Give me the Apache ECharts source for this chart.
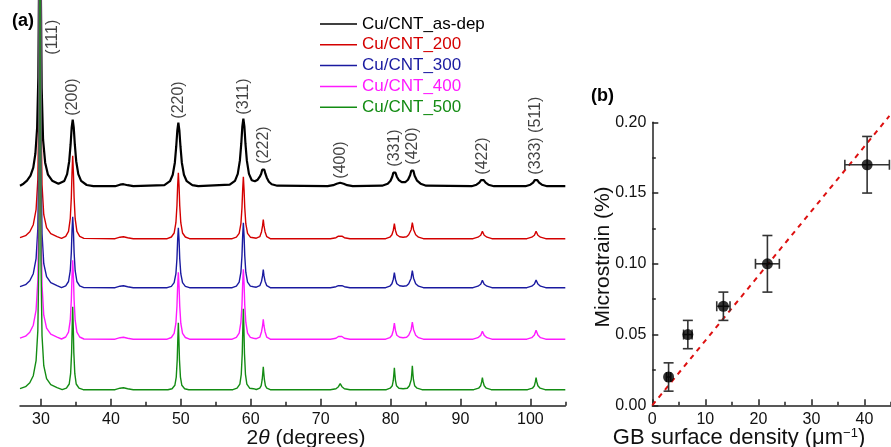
<!DOCTYPE html>
<html>
<head>
<meta charset="utf-8">
<script src="https://cdn.jsdelivr.net/npm/echarts@6/dist/echarts.min.js"></script>
<style>
html, body { margin: 0; padding: 0; background: #fff; }
#main { width: 891px; height: 447px; }
</style>
</head>
<body>
<div id="main"></div>
<script>
// XRD patterns: [2theta, intensity above own baseline] (a.u.)
var seriesNames = ['Cu/CNT_as-dep', 'Cu/CNT_200', 'Cu/CNT_300', 'Cu/CNT_400', 'Cu/CNT_500'];
var offsets = [218, 166, 117, 65.5, 15];

var asDep = [
	[27,2],[27.5,4],[28.0,7],[28.5,12],[28.9,20],[29.2,34],[29.45,60],[29.62,110],[29.74,220],[29.86,1600],[29.98,200],[30.1,100],[30.3,48],[30.6,25],[31.0,13],[31.6,7],[32.5,4],
	[33.34,6.8],[33.74,13.6],[34.04,26.5],[34.24,43.5],[34.39,60],[34.54,68],[34.69,60],[34.84,43.5],[35.04,26.5],[35.34,13.6],[35.74,6.8],[36.54,2.7],[37.5,1.5],
	[40.6,1.5],[41.3,3],[41.8,3.5],[42.4,2.5],[43.2,1.5],
	[47.65,2.6],[48.45,6.5],[48.85,13],[49.15,25],[49.35,41.5],[49.5,57],[49.65,65],[49.8,57],[49.95,41.5],[50.15,25],[50.45,13],[50.85,6.5],[51.65,2.6],[52.5,1.5],
	[57.0,3],[57.75,6.9],[58.15,13.8],[58.45,27],[58.65,44],[58.8,61],[58.95,69],[59.1,61],[59.25,44],[59.45,27],[59.75,13.8],[60.15,7.5],[60.6,6.5],
	[61.0,8],[61.3,11],[61.5,14],[61.65,18],[61.8,20],[61.95,18],[62.1,14],[62.3,10],[62.6,6],[63.0,3.5],[63.8,2],
	[71.0,1.5],[71.8,2.5],[72.3,4],[72.8,5],[73.3,4],[73.8,2.5],[74.6,1.5],
	[78.8,2],[79.6,4],[80.0,7],[80.25,11],[80.4,15],[80.55,17],[80.7,15],[80.9,11],[81.2,7.5],[81.6,5.5],[81.85,5],[82.1,5.5],[82.5,8],[82.8,12.5],[82.97,17],[83.12,19],[83.27,17],[83.45,12],[83.8,7],[84.3,4],[85.1,2],
	[91.6,1.5],[92.3,3],[92.7,5],[92.95,7.5],[93.14,9],[93.33,7.5],[93.6,5],[94.0,3],[94.8,1.5],
	[99.3,1.5],[100.0,3],[100.4,5],[100.63,7.5],[100.82,9],[101.0,7.5],[101.25,5],[101.65,3],[102.4,1.5],[105,1.5]
];
var t200 = [
	[27,2],[27.8,4],[28.4,8],[28.9,15],[29.3,30],[29.55,60],[29.72,140],[29.86,1400],[30.0,130],[30.15,55],[30.4,25],[30.8,12],[31.4,6],[32.3,3],
	[32.94,1.3],[33.54,3.4],[33.94,8.4],[34.19,21],[34.34,42],[34.44,67],[34.54,84],[34.64,67],[34.74,42],[34.89,21],[35.14,8.4],[35.54,3.4],[36.14,1.3],
	[40.6,1],[41.3,2.5],[41.8,3],[42.4,2],[43.2,1],
	[48.05,1],[48.65,2.7],[49.05,6.7],[49.3,17],[49.45,34],[49.55,54],[49.65,67],[49.75,54],[49.85,34],[50.0,17],[50.25,6.7],[50.65,2.7],[51.25,1],
	[57.35,1],[57.95,2.5],[58.35,6.3],[58.6,16],[58.75,32],[58.85,50],[58.95,63],[59.05,50],[59.15,32],[59.3,16],[59.55,6.3],[59.95,2.5],[60.4,2],
	[60.8,1.5],[61.3,3],[61.55,8],[61.7,14],[61.8,20],[61.9,14],[62.05,8],[62.3,3],[62.8,1],
	[71.4,1],[72.2,2],[72.55,3.5],[72.8,5],[73.05,3.5],[73.4,2],[74.2,1],
	[79.3,1],[79.9,2.5],[80.2,5],[80.4,9.5],[80.55,16],[80.7,9.5],[80.9,5],[81.3,3],[81.8,2.5],[82.3,3],[82.6,5],[82.95,10],[83.12,17],[83.3,10],[83.6,5],[84.0,2.5],[84.7,1],
	[91.8,1],[92.5,2.5],[92.9,4.5],[93.14,8.3],[93.4,4.5],[93.8,2.5],[94.5,1],
	[99.5,1],[100.2,2.5],[100.58,4.5],[100.82,8.3],[101.08,4.5],[101.45,2.5],[102.2,1],[105,1]
];
var t300 = [
	[27,2],[27.8,4],[28.4,8],[28.9,15],[29.3,30],[29.55,60],[29.72,140],[29.86,1400],[30.0,130],[30.15,55],[30.4,25],[30.8,12],[31.4,6],[32.3,3],
	[32.94,1.1],[33.54,2.9],[33.94,7.2],[34.19,18],[34.34,36],[34.44,58],[34.54,72],[34.64,58],[34.74,36],[34.89,18],[35.14,7.2],[35.54,2.9],[36.14,1.1],
	[40.6,1],[41.3,2.5],[41.8,3],[42.4,2],[43.2,1],
	[48.05,1],[48.65,2.4],[49.05,6.1],[49.3,15],[49.45,30],[49.55,49],[49.65,61],[49.75,49],[49.85,30],[50.0,15],[50.25,6.1],[50.65,2.4],[51.25,1],
	[57.35,1],[57.95,2.6],[58.35,6.6],[58.6,16.5],[58.75,33],[58.85,53],[58.95,66],[59.05,53],[59.15,33],[59.3,16.5],[59.55,6.6],[59.95,2.6],[60.4,2],
	[60.8,1.5],[61.3,3],[61.55,7.5],[61.7,13],[61.8,19],[61.9,13],[62.05,7.5],[62.3,3],[62.8,1],
	[71.4,1],[72.2,2],[72.55,3],[72.8,4.3],[73.05,3],[73.4,2],[74.2,1],
	[79.3,1],[79.9,2.5],[80.2,5],[80.4,9.5],[80.55,16],[80.7,9.5],[80.9,5],[81.3,3],[81.8,2.5],[82.3,3],[82.6,5],[82.95,10.5],[83.12,18],[83.3,10.5],[83.6,5],[84.0,2.5],[84.7,1],
	[91.8,1],[92.5,2.5],[92.9,4.5],[93.14,8.3],[93.4,4.5],[93.8,2.5],[94.5,1],
	[99.5,1],[100.2,2.5],[100.58,4.7],[100.82,8.6],[101.08,4.7],[101.45,2.5],[102.2,1],[105,1]
];
var t400 = [
	[27,2],[27.8,4],[28.4,8],[28.9,15],[29.3,30],[29.55,60],[29.72,140],[29.86,1400],[30.0,130],[30.15,55],[30.4,25],[30.8,12],[31.4,6],[32.3,3],
	[32.94,1.2],[33.54,3.2],[33.94,8],[34.19,20],[34.34,40],[34.44,64],[34.54,80],[34.64,64],[34.74,40],[34.89,20],[35.14,8],[35.54,3.2],[36.14,1.2],
	[40.6,1],[41.3,2.5],[41.8,3],[42.4,2],[43.2,1],
	[48.05,1],[48.65,2.7],[49.05,6.8],[49.3,17],[49.45,34],[49.55,54],[49.65,68],[49.75,54],[49.85,34],[50.0,17],[50.25,6.8],[50.65,2.7],[51.25,1],
	[57.35,1],[57.95,2.8],[58.35,7.1],[58.6,18],[58.75,35],[58.85,57],[58.95,71],[59.05,57],[59.15,35],[59.3,18],[59.55,7.1],[59.95,2.8],[60.4,2],
	[60.8,1.5],[61.3,3],[61.55,8.5],[61.7,14.5],[61.8,21],[61.9,14.5],[62.05,8.5],[62.3,3],[62.8,1],
	[71.4,1],[72.2,2],[72.55,3.7],[72.8,5.4],[73.05,3.7],[73.4,2],[74.2,1],
	[79.3,1],[79.9,2.5],[80.2,5],[80.4,10],[80.55,17],[80.7,10],[80.9,5],[81.3,3],[81.8,2.5],[82.3,3],[82.6,5],[82.95,10.5],[83.12,18],[83.3,10.5],[83.6,5],[84.0,2.5],[84.7,1],
	[91.8,1],[92.5,2.5],[92.9,4.8],[93.14,9],[93.4,4.8],[93.8,2.5],[94.5,1],
	[99.5,1],[100.2,2.5],[100.58,5.2],[100.82,10],[101.08,5.2],[101.45,2.5],[102.2,1],[105,1]
];
var t500 = [
	[27,2],[27.8,4],[28.4,8],[28.9,15],[29.3,30],[29.55,60],[29.72,140],[29.86,1400],[30.0,130],[30.15,55],[30.4,25],[30.8,12],[31.4,6],[32.3,3],
	[33.04,1],[33.64,2.5],[34.04,6.7],[34.24,17],[34.38,38],[34.46,63],[34.54,84],[34.62,63],[34.70,38],[34.84,17],[35.04,6.7],[35.44,2.5],[36.04,1],
	[40.6,1],[41.3,2.5],[41.8,3],[42.4,2],[43.2,1],
	[48.15,1],[48.75,2],[49.15,5.4],[49.35,13.6],[49.49,31],[49.57,51],[49.65,68],[49.73,51],[49.81,31],[49.95,13.6],[50.15,5.4],[50.55,2],[51.15,1],
	[57.45,1],[58.05,2.5],[58.45,6.6],[58.65,16.4],[58.79,37],[58.87,62],[58.95,82],[59.03,62],[59.11,37],[59.25,16.4],[59.45,6.6],[59.85,2.5],[60.4,2],
	[60.8,1.2],[61.3,2.5],[61.5,5],[61.64,11],[61.72,17],[61.8,24],[61.88,17],[61.96,11],[62.1,5],[62.3,2.5],[62.8,1],
	[71.4,1],[72.2,2],[72.55,4],[72.8,7],[73.05,4],[73.4,2],[74.2,1],
	[79.4,1],[79.95,2.5],[80.25,5],[80.39,10],[80.47,16],[80.55,23],[80.63,16],[80.71,10],[80.85,5],[81.2,2.5],[81.8,2],[82.4,2.5],[82.7,5],[82.96,11],[83.04,17],[83.12,25],[83.2,17],[83.28,11],[83.45,5],[83.8,2.5],[84.5,1],
	[91.9,1],[92.6,2.5],[92.9,5],[93.04,9],[93.14,13],[93.24,9],[93.4,5],[93.7,2.5],[94.4,1],
	[99.6,1],[100.3,2.5],[100.58,5],[100.72,9],[100.82,13],[100.92,9],[101.08,5],[101.4,2.5],[102.1,1],[105,1]
];

// reflection labels: [2theta, anchor intensity above the as-dep baseline]
var peakNames = ['(111)', '(200)', '(220)', '(311)', '(222)', '(400)', '(331)', '(420)', '(422)', '(333) (511)'];
var peakLabelAt = [[31.72,133],[34.54,72],[49.65,69],[58.95,73],[61.8,24],[72.8,9],[80.55,21],[83.12,23],[93.14,13],[100.82,13]];

// panel (b)
var gbDensity = [3.07, 6.7, 13.4, 21.7, 40.5];
var gbErr = [0.4, 0.8, 1.25, 2.25, 4.2];
var microstrain = [0.02, 0.05, 0.07, 0.10, 0.17];
var strainErr = [0.01, 0.01, 0.01, 0.02, 0.02];
var fitLine = [[0, 0], [44.7, 0.2045]];

var colors = ['#000000', '#d40000', '#1a1aa0', '#ff1aff', '#138c13'];
var FONT = "'Liberation Sans', Arial, sans-serif";
var xrd = [asDep, t200, t300, t400, t500];

var series = [];
for (var i = 0; i < xrd.length; i++) {
	(function (k) {
		series.push({
			name: seriesNames[k],
			type: 'line',
			xAxisIndex: 0,
			yAxisIndex: 0,
			symbol: 'none',
			animation: false,
			lineStyle: { color: colors[k], width: k == 0 ? 2.2 : 1.4 },
			itemStyle: { color: colors[k] },
			data: xrd[k].map(function (p) { return [p[0], p[1] + offsets[k]]; })
		});
	})(i);
}

series.push({
	type: 'scatter',
	xAxisIndex: 0,
	yAxisIndex: 0,
	symbolSize: 0,
	silent: true,
	data: peakLabelAt.map(function (p, j) { return { value: [p[0], p[1] + offsets[0]], name: peakNames[j] }; }),
	label: {
		show: true,
		position: 'top',
		distance: 0,
		rotate: 90,
		align: 'left',
		verticalAlign: 'middle',
		formatter: '{b}',
		fontSize: 16,
		fontFamily: FONT,
		color: '#111'
	}
});

// error bars
series.push({
	type: 'custom',
	xAxisIndex: 3,
	yAxisIndex: 1,
	data: gbDensity.map(function (x, j) { return [x, microstrain[j], gbErr[j], strainErr[j]]; }),
	renderItem: function (params, api) {
		var x = api.value(0), y = api.value(1), ex = api.value(2), ey = api.value(3);
		var t = api.coord([x, y + ey]), b = api.coord([x, y - ey]);
		var l = api.coord([x - ex, y]), r = api.coord([x + ex, y]);
		var st = { stroke: '#333', lineWidth: 1.6 };
		var cap = 5;
		return {
			type: 'group',
			children: [
				{ type: 'line', shape: { x1: t[0], y1: t[1], x2: b[0], y2: b[1] }, style: st },
				{ type: 'line', shape: { x1: t[0] - cap, y1: t[1], x2: t[0] + cap, y2: t[1] }, style: st },
				{ type: 'line', shape: { x1: b[0] - cap, y1: b[1], x2: b[0] + cap, y2: b[1] }, style: st },
				{ type: 'line', shape: { x1: l[0], y1: l[1], x2: r[0], y2: r[1] }, style: st },
				{ type: 'line', shape: { x1: l[0], y1: l[1] - cap, x2: l[0], y2: l[1] + cap }, style: st },
				{ type: 'line', shape: { x1: r[0], y1: r[1] - cap, x2: r[0], y2: r[1] + cap }, style: st }
			]
		};
	},
	z: 3
});
series.push({
	type: 'line',
	xAxisIndex: 3,
	yAxisIndex: 1,
	data: fitLine,
	symbol: 'none',
	clip: false,
	lineStyle: { color: '#dd1010', width: 2, type: [5, 5] },
	z: 2
});
series.push({
	type: 'scatter',
	xAxisIndex: 3,
	yAxisIndex: 1,
	symbol: 'circle',
	symbolSize: 11,
	itemStyle: { color: '#000' },
	data: gbDensity.map(function (x, j) { return [x, microstrain[j]]; }),
	z: 4
});

var hiddenY = function (g) { return { gridIndex: g, type: 'value', show: false, min: 0, max: 1 }; };
var axisCol = '#222';

var option = {
	animation: false,
	backgroundColor: '#fff',
	textStyle: { fontFamily: FONT },
	legend: {
		orient: 'vertical',
		left: 320,
		top: 14,
		padding: 0,
		icon: 'rect',
		itemWidth: 37,
		itemHeight: 1.5,
		itemGap: 0.8,
		data: seriesNames.map(function (n, k) { return { name: n, textStyle: { color: colors[k] } }; }),
		textStyle: { fontSize: 17, fontFamily: FONT, lineHeight: 20 }
	},
	grid: [
		{ left: 20, right: 325.7, top: 0, bottom: 41.3 },
		{ left: 40.97, right: 360.6, top: 0, bottom: 41.3 },
		{ left: 75.93, right: 325.7, top: 0, bottom: 41.3 },
		{ left: 652.3, width: 240.4, top: 122.3, bottom: 41.7 },
		{ left: 679, width: 213.7, top: 122.3, bottom: 41.7 }
	],
	xAxis: [
		{ gridIndex: 0, type: 'value', min: 27, max: 105,
			axisLine: { show: true, lineStyle: { color: axisCol, width: 1.5 } },
			axisTick: { show: false }, axisLabel: { show: false }, splitLine: { show: false } },
		{ gridIndex: 1, type: 'value', min: 30, max: 100, interval: 10,
			axisLine: { show: false },
			axisTick: { inside: true, length: 7, lineStyle: { color: axisCol, width: 1.5 } },
			axisLabel: { fontSize: 16, color: '#111', margin: 6, fontFamily: FONT },
			splitLine: { show: false } },
		{ gridIndex: 2, type: 'value', min: 35, max: 105, interval: 10,
			axisLine: { show: false },
			axisTick: { inside: true, length: 4, lineStyle: { color: axisCol, width: 1.5 } },
			axisLabel: { show: false }, splitLine: { show: false } },
		{ gridIndex: 3, type: 'value', min: 0, max: 45, interval: 10,
			axisLine: { show: true, lineStyle: { color: axisCol, width: 1.5 } },
			axisTick: { inside: true, length: 6, lineStyle: { color: axisCol, width: 1.5 } },
			axisLabel: { fontSize: 16, color: '#111', margin: 6, fontFamily: FONT, showMaxLabel: false },
			splitLine: { show: false } },
		{ gridIndex: 4, type: 'value', min: 5, max: 45, interval: 10,
			axisLine: { show: false },
			axisTick: { inside: true, length: 3.5, lineStyle: { color: axisCol, width: 1.5 } },
			axisLabel: { show: false }, splitLine: { show: false } }
	],
	yAxis: [
		{ gridIndex: 0, type: 'value', show: false, min: 0, max: 405.7 },
		{ gridIndex: 3, type: 'value', min: 0, max: 0.2, interval: 0.05,
			axisLine: { show: true, lineStyle: { color: axisCol, width: 1.5 } },
			axisTick: { inside: true, length: 6, lineStyle: { color: axisCol, width: 1.5 } },
			minorTick: { show: true, splitNumber: 2, length: 3.5, lineStyle: { color: axisCol, width: 1.5 } },
			axisLabel: { fontSize: 16, color: '#111', margin: 6, fontFamily: FONT,
				formatter: function (v) { return v.toFixed(2); } },
			splitLine: { show: false } },
		hiddenY(1), hiddenY(2), hiddenY(4)
	],
	graphic: [
		{ type: 'text', x: 12, y: 12, style: { text: '(a)', fontSize: 18, fontWeight: 'bold', fontFamily: FONT, fill: '#000' } },
		{ type: 'text', x: 591, y: 87, style: { text: '(b)', fontSize: 18, fontWeight: 'bold', fontFamily: FONT, fill: '#000' } },
		{ type: 'text', x: 306, y: 438, style: {
			text: '2{i|θ} (degrees)', fontSize: 21, fontFamily: FONT, fill: '#111', align: 'center', verticalAlign: 'middle',
			rich: { i: { fontStyle: 'italic', fontSize: 21, fontFamily: FONT, fill: '#111' } } } },
		{ type: 'text', x: 603, y: 257, rotation: Math.PI / 2, style: {
			text: 'Microstrain (%)', fontSize: 21, fontFamily: FONT, fill: '#111', align: 'center', verticalAlign: 'middle' } },
		{ type: 'text', x: 739, y: 438, style: {
			text: 'GB surface density (μm{s|−1})', fontSize: 22, fontFamily: FONT, fill: '#111', align: 'center', verticalAlign: 'middle',
			rich: { s: { fontSize: 13, fontFamily: FONT, fill: '#111', verticalAlign: 'top', padding: [0, 0, 8, 0] } } } }
	],
	series: series
};

var chart = echarts.init(document.getElementById('main'));
chart.setOption(option);
</script>
</body>
</html>
